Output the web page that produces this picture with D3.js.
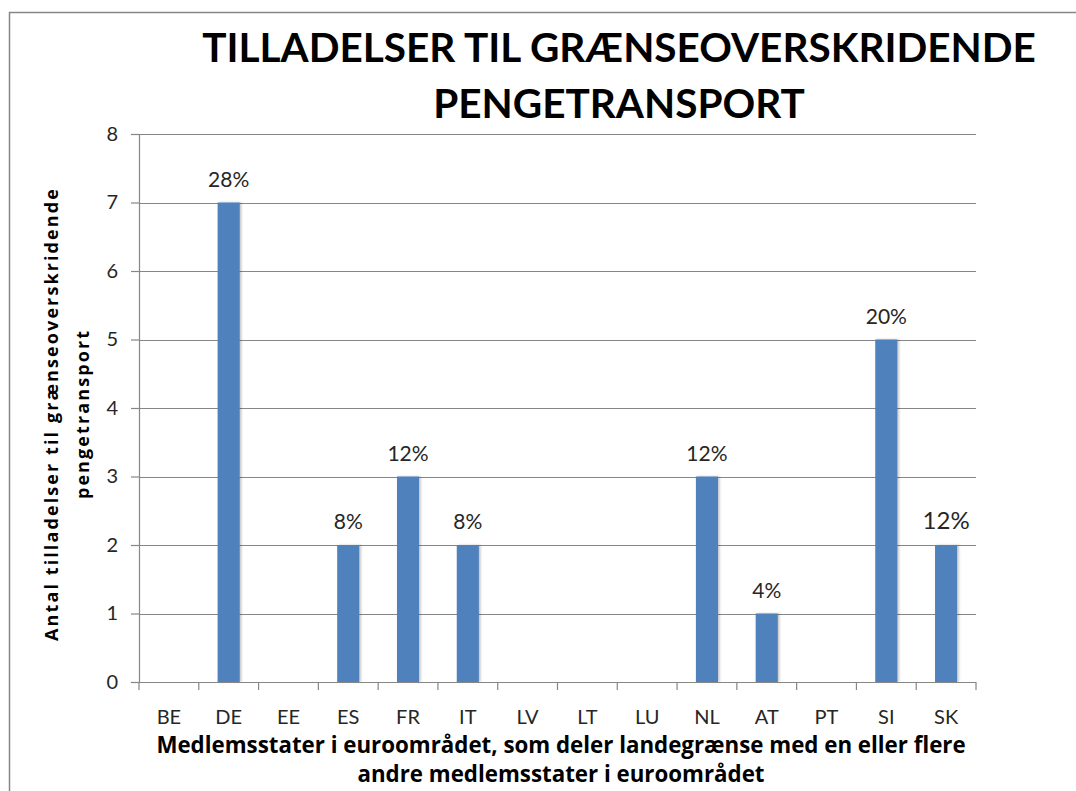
<!DOCTYPE html>
<html>
<head>
<meta charset="utf-8">
<script src="https://cdn.jsdelivr.net/npm/d3@7"></script>
<style>
  body { margin: 0; background: #fff; }
  svg { display: block; }
  text { font-family: Lato, "Noto Sans", sans-serif; }
</style>
</head>
<body>
<div id="chart"></div>
<script>
// Data
const countries = ['BE', 'DE', 'EE', 'ES', 'FR', 'IT', 'LV', 'LT', 'LU', 'NL', 'AT', 'PT', 'SI', 'SK'];
const permits = [0, 7, 0, 2, 3, 2, 0, 0, 0, 3, 1, 0, 5, 2];
const shareLabels = ['', '28%', '', '8%', '12%', '8%', '', '', '', '12%', '4%', '', '20%', '12%'];
const yTicks = [0, 1, 2, 3, 4, 5, 6, 7, 8];
const titleLines = ['TILLADELSER TIL GRÆNSEOVERSKRIDENDE', 'PENGETRANSPORT'];
const yTitleLines = ['Antal tilladelser til grænseoverskridende', 'pengetransport'];
const xTitleLines = ['Medlemsstater i euroområdet, som deler landegrænse med en eller flere', 'andre medlemsstater i euroområdet'];

const width = 1076;
const height = 791;
const margin = { top: 134, right: 100, bottom: 109, left: 139 };
const plotW = width - margin.left - margin.right;
const plotH = height - margin.top - margin.bottom;

const GRID = '#868686';
const BAR = '#4f81bd';
const TEXT = '#262626';

const svg = d3.select('#chart')
    .append('svg')
    .attr('width', width)
    .attr('height', height);

// soft shadow behind the bars
const defs = svg.append('defs');
const shadow = defs.append('filter')
    .attr('id', 'shadow')
    .attr('x', '-30%').attr('y', '-10%')
    .attr('width', '160%').attr('height', '120%');
shadow.append('feDropShadow')
    .attr('dx', 1.5).attr('dy', 0)
    .attr('stdDeviation', 1.2)
    .attr('flood-color', '#000')
    .attr('flood-opacity', 0.25);

// chart frame (runs off the right and bottom edges)
svg.append('rect')
    .attr('x', 9.5)
    .attr('y', 12.5)
    .attr('width', width)
    .attr('height', height)
    .attr('fill', 'none')
    .attr('stroke', GRID)
    .attr('stroke-width', 1.5);

const plot = svg.append('g')
    .attr('transform', `translate(${margin.left},${margin.top})`);

// scales
const x = d3.scaleBand()
    .domain(countries)
    .range([0, plotW])
    .padding(0);

const y = d3.scaleLinear()
    .domain([0, 8])
    .range([plotH, 0]);

// gridlines
plot.append('g')
    .attr('class', 'grid')
    .selectAll('line')
    .data(yTicks.filter(d => d > 0))
    .join('line')
    .attr('x1', 0)
    .attr('x2', plotW)
    .attr('y1', d => Math.round(y(d)) + 0.5)
    .attr('y2', d => Math.round(y(d)) + 0.5)
    .attr('stroke', GRID)
    .attr('stroke-width', 1.2);

// y axis
const yAxis = plot.append('g')
    .attr('class', 'y-axis')
    .call(d3.axisLeft(y)
        .tickValues(yTicks)
        .tickSize(8)
        .tickPadding(13)
        .tickFormat(d3.format('d')));
yAxis.select('.domain').attr('stroke', GRID).attr('stroke-width', 1.2);
yAxis.selectAll('.tick line').attr('stroke', GRID).attr('stroke-width', 1.2);
yAxis.selectAll('.tick text')
    .attr('fill', TEXT)
    .style('font-size', '20px')
    .style('font-family', 'Lato, sans-serif');

// bars
const barW = x.bandwidth() * 0.37;
const rows = countries.map((c, i) => ({ c, v: permits[i], label: shareLabels[i] }));

plot.append('g')
    .attr('class', 'bars')
    .selectAll('rect')
    .data(rows.filter(d => d.v > 0))
    .join('rect')
    .attr('x', d => x(d.c) + (x.bandwidth() - barW) / 2)
    .attr('y', d => y(d.v))
    .attr('width', barW)
    .attr('height', d => y(0) - y(d.v))
    .attr('fill', BAR)
    .attr('filter', 'url(#shadow)');

// x axis: line plus ticks on the category boundaries
const xAxis = plot.append('g')
    .attr('class', 'x-axis')
    .attr('transform', `translate(0,${plotH})`);
xAxis.append('line')
    .attr('x1', -8)
    .attr('x2', plotW)
    .attr('y1', 0.5)
    .attr('y2', 0.5)
    .attr('stroke', GRID)
    .attr('stroke-width', 1.2);
xAxis.selectAll('.bound')
    .data(countries.concat(['_end']))
    .join('line')
    .attr('class', 'bound')
    .attr('x1', (d, i) => i < countries.length ? x(d) : plotW)
    .attr('x2', (d, i) => i < countries.length ? x(d) : plotW)
    .attr('y1', 0)
    .attr('y2', 8)
    .attr('stroke', GRID)
    .attr('stroke-width', 1.2);
xAxis.selectAll('.cat')
    .data(countries)
    .join('text')
    .attr('class', 'cat')
    .attr('x', d => x(d) + x.bandwidth() / 2)
    .attr('y', 42)
    .attr('text-anchor', 'middle')
    .attr('fill', TEXT)
    .style('font-size', '20px')
    .text(d => d);

// value labels
plot.append('g')
    .attr('class', 'labels')
    .selectAll('text')
    .data(rows.filter(d => d.label))
    .join('text')
    .attr('x', d => x(d.c) + x.bandwidth() / 2)
    .attr('y', d => y(d.v) - 16)
    .attr('text-anchor', 'middle')
    .attr('fill', TEXT)
    .style('font-size', d => d.c === 'SK' ? '24px' : '21px')
    .text(d => d.label);

// title
svg.append('g')
    .attr('class', 'title')
    .selectAll('text')
    .data(titleLines)
    .join('text')
    .attr('x', 619)
    .attr('y', (d, i) => 62 + i * 56)
    .attr('text-anchor', 'middle')
    .attr('fill', '#000')
    .style('font-size', '40.5px')
    .style('font-weight', 'bold')
    .text(d => d);

// y axis title
svg.append('g')
    .attr('class', 'y-title')
    .attr('transform', 'translate(58,414) rotate(-90)')
    .selectAll('text')
    .data(yTitleLines)
    .join('text')
    .attr('x', 0)
    .attr('y', (d, i) => i * 31)
    .attr('text-anchor', 'middle')
    .attr('fill', '#000')
    .style('font-family', '"Open Sans", sans-serif')
    .style('font-size', '18px')
    .style('font-weight', 'bold')
    .style('letter-spacing', '2.1px')
    .text(d => d);

// x axis title
svg.append('g')
    .attr('class', 'x-title')
    .selectAll('text')
    .data(xTitleLines)
    .join('text')
    .attr('x', 561)
    .attr('y', (d, i) => 753 + i * 29)
    .attr('text-anchor', 'middle')
    .attr('fill', '#000')
    .style('font-family', '"Open Sans", sans-serif')
    .style('font-size', '22.3px')
    .style('font-weight', 'bold')
    .text(d => d);
</script>
</body>
</html>
